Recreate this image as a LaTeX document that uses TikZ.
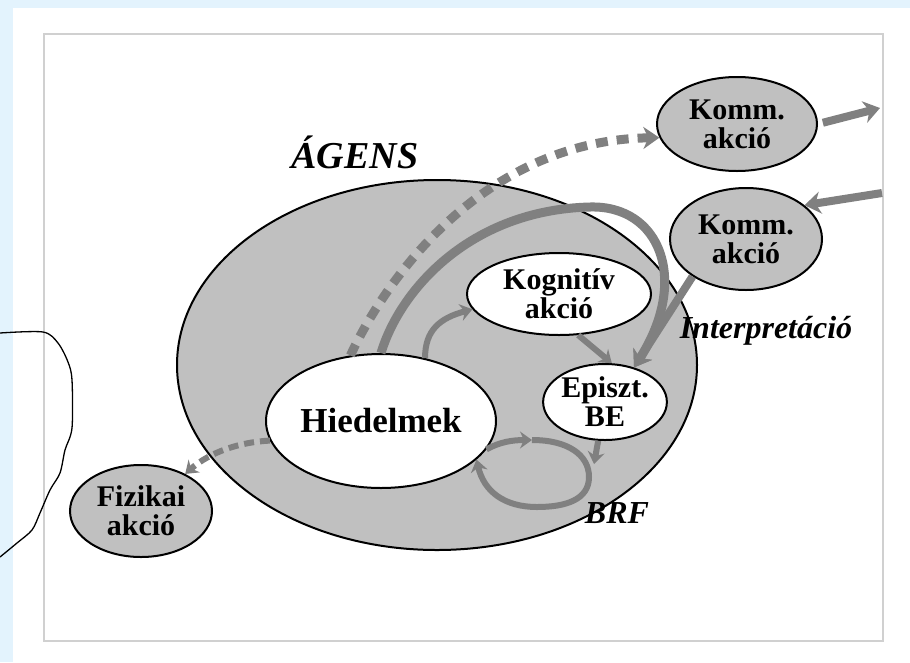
\documentclass[tikz,border=0pt]{standalone}
\usepackage{fontspec}
\setmainfont{Liberation Serif}
\usetikzlibrary{shapes.geometric,arrows.meta}

\definecolor{pagebg}{RGB}{227,243,253}
\definecolor{framegray}{RGB}{208,208,208}
\definecolor{agensgray}{RGB}{192,192,192}
\definecolor{flowgray}{RGB}{128,128,128}

\tikzset{
	bubble/.style={shape=ellipse, draw=black, line width=2pt, inner sep=0pt, align=center, font=\bfseries\fontsize{30}{29}\selectfont},
	akcio/.style={bubble, fill=agensgray},
	belso/.style={bubble, fill=white},
	flow/.style={draw=flowgray, line width=#1, -{Stealth[length=16pt,width=22pt,inset=5pt]}},
	flow/.default=9pt,
	kis/.style={-{Stealth[length=12pt,width=17pt,inset=4pt]}},
	szaggat/.style={dash pattern=on 12pt off 9pt},
	felirat/.style={inner sep=0pt, font=\bfseries\itshape\fontsize{32}{32}\selectfont}
}

\begin{document}
\begin{tikzpicture}[x=1pt,y=-1pt]
	\useasboundingbox (0,0) rectangle (910,662);
	\fill[pagebg] (0,0) rectangle (910,662);
	\fill[white] (13,8) rectangle (910,662);
	\draw[framegray, line width=2pt] (44,34) rectangle (883,641);
	\draw[line width=1.3pt] plot[smooth] coordinates {(0,333) (43,332) (58,343) (68,362) (72,380) (72,428) (65,450) (60,473) (50,490) (40,513) (32,530) (17,543) (0,557)};

	\node[akcio, minimum width=520pt, minimum height=370pt] (agens) at (437,365) {};
	\node[belso, minimum width=230pt, minimum height=134pt, font=\bfseries\fontsize{35}{35}\selectfont] (hied) at (381,421) {Hiedelmek};
	\node[belso, minimum width=184pt, minimum height=82pt] (kogn) at (559,294) {Kognitív\\akció};
	\node[belso, minimum width=120pt, minimum height=76pt] (episzt) at (605,402) {Episzt.\\BE};
	\node[akcio, minimum width=160pt, minimum height=94pt] (komm1) at (737,124) {Komm.\\akció};
	\node[akcio, minimum width=152pt, minimum height=102pt] (komm2) at (746,239) {Komm.\\akció};
	\node[akcio, minimum width=142pt, minimum height=92pt] (fiz) at (141,511) {Fizikai\\akció};

	\coordinate (ki) at (880,108);
	\coordinate (be) at (882,193);
	\coordinate (ivcsucs) at (590,207);
	\coordinate (lpT) at (532,440);
	\coordinate (lpR) at (589,477);
	\coordinate (lpB) at (537,507);
	\coordinate (brfbe) at (594,464);

	% kommunikacio
	\draw[flow, szaggat] (hied.115) .. controls (390,270) and (490,140) .. (komm1.190);
	\draw[flow] (hied.north) .. controls (400,290) and (470,210) .. (ivcsucs) .. controls (660,205) and (690,280) .. (episzt.50);
	\draw[flow=8pt] (komm2.215) -- (episzt.50);
	\draw[flow=8pt, shorten <=5pt] (komm1.east) -- (ki);
	\draw[flow=8pt] (be) -- (komm2.30);

	% belso akciok
	\draw[flow=6pt, kis] (kogn.-65) -- (episzt.80);
	\draw[flow=6pt, kis] (hied.55) .. controls (425,330) and (440,318) .. (kogn.190);
	\draw[flow=6pt, kis, dash pattern=on 10pt off 6pt] (hied.190) .. controls (240,442) and (210,452) .. (fiz.40);

	% BRF hurok
	\draw[flow=6pt, kis] (hied.-15) .. controls (500,442) and (512,440) .. (lpT);
	\draw[flow=6pt, kis] (lpT) .. controls (568,440) and (589,455) .. (lpR) .. controls (589,500) and (565,507) .. (lpB) .. controls (505,507) and (484,492) .. (hied.-22);
	\draw[flow=6pt, kis] (episzt.-100) -- (brfbe);

	\node[felirat, font=\bfseries\itshape\fontsize{38}{38}\selectfont] (agenslbl) at (355,152) {ÁGENS};
	\node[felirat] (interp) at (766,331) {Interpretáció};
	\node[felirat] (brf) at (617,513) {BRF};
\end{tikzpicture}
\end{document}
